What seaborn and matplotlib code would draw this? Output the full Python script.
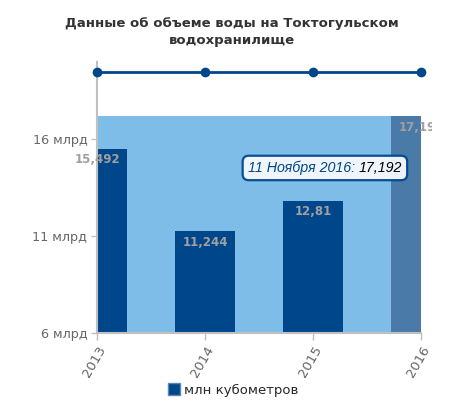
import matplotlib
matplotlib.use("Agg")
import matplotlib.pyplot as plt
from matplotlib.transforms import Bbox, IdentityTransform
from matplotlib.patches import FancyBboxPatch
from matplotlib.lines import Line2D
import seaborn as sns
import numpy as np

years = ["2013", "2014", "2015", "2016"]
volumes = [15.492, 11.244, 12.81, 17.192]
volume_labels = ["15,492", "11,244", "12,81", "17,192"]
top_line = [19.5, 19.5, 19.5, 19.5]
y_ticks = [6, 11, 16]
y_tick_labels = ["6 млрд", "11 млрд", "16 млрд"]
tooltip_prefix = "11 Ноября 2016: "
title = "Данные об объеме воды на Токтогульском\nводохранилище"
legend_label = "млн кубометров"

dark_blue = "#00468a"
hover_blue = "#4a7aa8"
light_blue = "#7fbde9"
gray_txt = "#666666"
axis_gray = "#c0c0c0"
bar_w = 0.556

sns.set_theme(style="white")
plt.rcParams["font.family"] = ["DejaVu Sans"]

fig = plt.figure(figsize=(4.5, 4.08), dpi=100)
ax = fig.add_axes([97 / 450, 75 / 408, 324 / 450, 271 / 408])

n = len(years)
x = np.arange(n)

# highlighted background up to the hovered value
ax.fill_between([0, n - 1 - bar_w / 2], y_ticks[0], max(volumes),
                color=light_blue, lw=0, zorder=0)
ax.axhline(y_ticks[0], color="#e0201b", lw=1.2, zorder=0.5)

colors = [dark_blue] * (n - 1) + [hover_blue]
sns.barplot(x=x, y=volumes, hue=x, palette=colors, legend=False,
            width=bar_w, saturation=1, ax=ax, zorder=1, native_scale=True,
            linewidth=0, edgecolor="none")

sns.lineplot(x=x, y=top_line, color=dark_blue, lw=2, marker="o",
             markersize=7, markeredgewidth=0, ax=ax, zorder=3, clip_on=False)

for i, (v, lab) in enumerate(zip(volumes, volume_labels)):
    t = ax.annotate(lab, (i, v), xytext=(0, -3), textcoords="offset points",
                    ha="center", va="top", fontsize=8.5, fontweight="bold",
                    color="#a0a0a0", zorder=4, annotation_clip=False)
    if i == n - 1:
        t.set_clip_on(True)
        t.set_clip_box(Bbox([[0, 0], [432, 408]]))

ax.set_xlim(0, n - 1)
ax.set_ylim(6, 20)
ax.set_xticks(x)
ax.set_xticklabels(years, rotation=60, ha="right", rotation_mode="anchor",
                   fontsize=9.5, color=gray_txt)
ax.set_yticks(y_ticks)
ax.set_yticklabels(y_tick_labels, fontsize=9.2, color=gray_txt)
ax.tick_params(axis="x", length=5, width=1, color=axis_gray, pad=3, bottom=True)
ax.tick_params(axis="y", length=4, width=1, color=axis_gray, pad=3, left=True)
ax.set_xlabel("")
ax.set_ylabel("")
for s in ["top", "right"]:
    ax.spines[s].set_visible(False)
for s in ["left", "bottom"]:
    ax.spines[s].set_color(axis_gray)
    ax.spines[s].set_linewidth(1.5)

# tooltip: two coloured pieces and a rounded box round them
tip_font = dict(fontsize=10.3, style="italic", family="Liberation Sans")
pre = ax.text(0.465, 0.609, tooltip_prefix, transform=ax.transAxes,
              ha="left", va="center", color=dark_blue, zorder=7, **tip_font)
val = ax.annotate(volume_labels[-1], xy=(1, 0.5), xycoords=pre, ha="left", va="center",
                  color="black", zorder=7, **tip_font)
fig.canvas.draw()
r = fig.canvas.get_renderer()
bb = Bbox.union([pre.get_window_extent(r), val.get_window_extent(r)])
box = FancyBboxPatch((bb.x0 - 5, bb.y0 - 5), bb.width + 10, bb.height + 10,
                     boxstyle="round,pad=0,rounding_size=6", fc="#f7f9fd",
                     ec=dark_blue, lw=1.6, alpha=0.95, zorder=6,
                     transform=IdentityTransform())
ax.add_artist(box)

fig.text(232 / 450, 1 - 32 / 408, title, ha="center", va="center",
         fontsize=9.5, fontweight="bold", color="#333333", linespacing=1.35)

handle = Line2D([], [], marker="s", ls="", markersize=8, color=dark_blue,
                markeredgecolor="#5a87b5")
fig.legend([handle], [legend_label], loc="center", bbox_to_anchor=(233 / 450, 18 / 408),
           frameon=False, fontsize=9.5, handletextpad=0.2, handlelength=1)

fig.savefig("out.png", dpi=100)
